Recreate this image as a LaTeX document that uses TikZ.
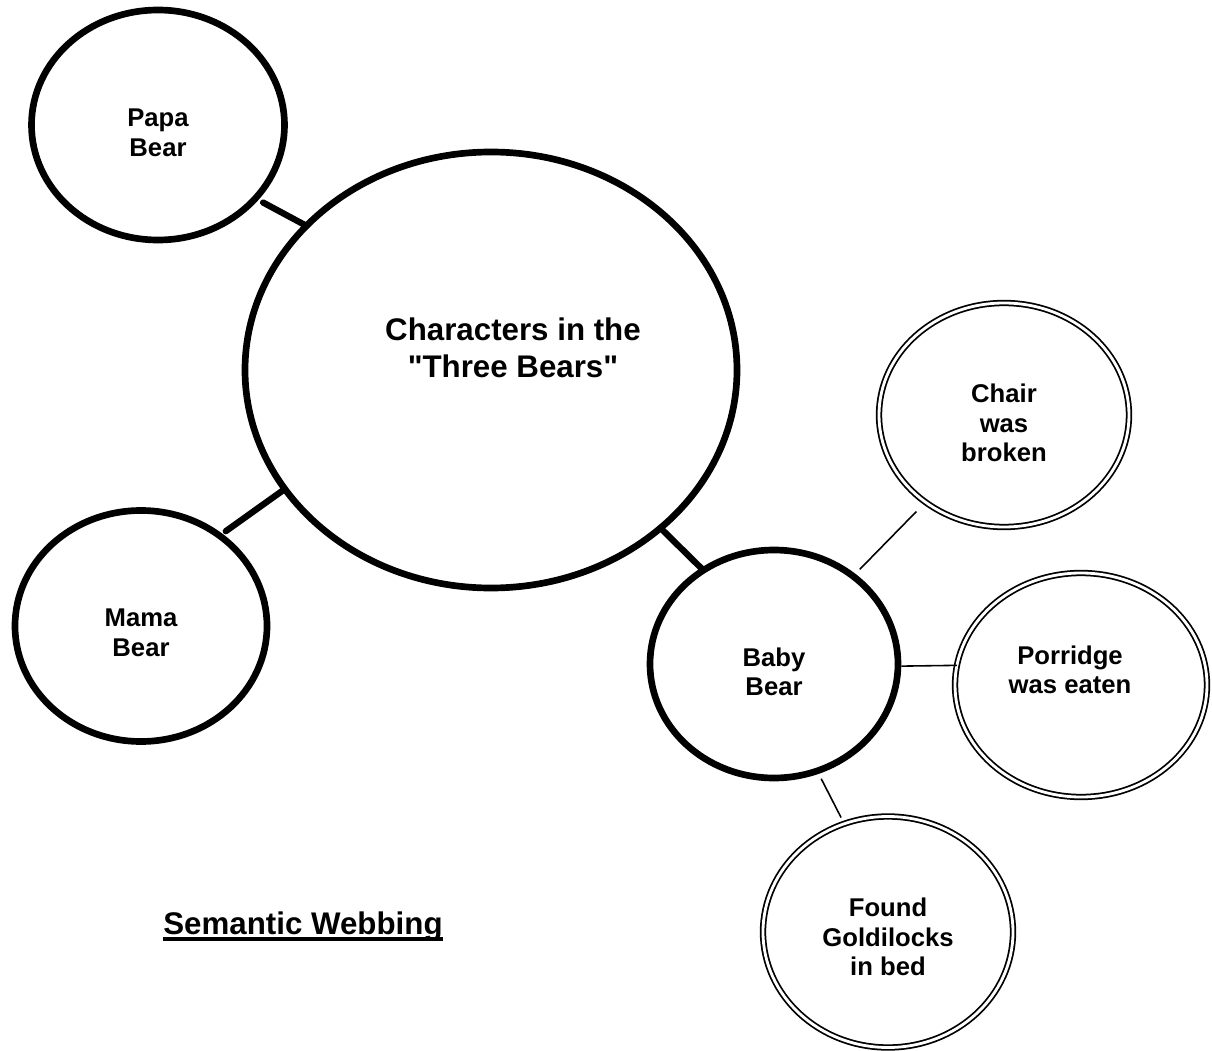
\documentclass[tikz,border=0pt]{standalone}
\usepackage{fontspec}
\setmainfont{Liberation Sans}
\usetikzlibrary{shapes.geometric}

\tikzset{
    bear/.style={ellipse, draw, line width=1.9pt, inner sep=0pt, outer sep=0pt},
    event/.style={ellipse, draw, double, line width=0.5pt, double distance=0.8pt, inner sep=0pt, outer sep=0pt},
    txt/.style={align=center, inner sep=0pt, font=\fontsize{7.3}{8.4}\selectfont\bfseries},
    biglink/.style={line width=1.8pt, line cap=round},
    smalllink/.style={line width=0.45pt}
}
\newcommand{\ulbold}[1]{\setbox0\hbox{#1}\rlap{\rule[-1.9pt]{\wd0}{1pt}}\box0}

\begin{document}
\begin{tikzpicture}
    \useasboundingbox (0,0) rectangle (12.12,-10.51);

    \node[bear, minimum width=4.92cm, minimum height=4.36cm] (main) at (4.91,-3.70) {};
    \node[txt, font=\fontsize{8.9}{10.5}\selectfont\bfseries] (main-t) at ([xshift=0.22cm, yshift=0.22cm]main.center) {Characters in the\\\textquotedbl Three Bears\textquotedbl};

    \foreach \n/\x/\w/\h/\l/\dy in{
    papa/{(1.58,-1.25)}/2.53/2.30/{Papa\\Bear}/-0.08,
    mama/{(1.41,-6.26)}/2.52/2.31/{Mama\\Bear}/-0.07,
    baby/{(7.74,-6.64)}/2.48/2.28/{Baby\\Bear}/-0.08
    }
    {
            \node[bear, minimum width=\w cm, minimum height=\h cm] (\n) at \x {};
            \node[txt] (\n-t) at ([yshift=\dy cm]\n.center) {\l};
        }

    \foreach \n/\x/\w/\h/\l/\dx/\dy in{
    chair/{(10.04,-4.15)}/2.50/2.24/{Chair\\was\\broken}/0/-0.08,
    porridge/{(10.81,-6.85)}/2.52/2.24/{Porridge\\was eaten}/-0.11/0.15,
    found/{(8.88,-9.32)}/2.50/2.31/{Found\\Goldilocks\\in bed}/0/-0.05
    }
    {
            \node[event, minimum width=\w cm, minimum height=\h cm] (\n) at \x {};
            \node[txt] (\n-t) at ([xshift=\dx cm, yshift=\dy cm]\n.center) {\l};
        }

    \draw[biglink, shorten <=2.5pt] (papa.-37) -- (main.142);
    \draw[biglink, shorten <=2.2pt] (mama.49) -- (main.210);
    \draw[biglink] (main.-43) -- (baby.127);
    \draw[smalllink, shorten <=2.7pt, shorten >=3.7pt] (baby.48) -- (chair.228);
    \draw[smalllink, shorten <=1pt] (baby.-1) -- (porridge.171);
    \draw[smalllink, shorten <=2.5pt, shorten >=2pt] (baby.-68) -- (found.112);

    \node[anchor=base, inner sep=0pt, font=\fontsize{8.9}{10}\selectfont\bfseries] (title) at (3.03,-9.34) {\ulbold{Semantic Webbing}};
\end{tikzpicture}
\end{document}
